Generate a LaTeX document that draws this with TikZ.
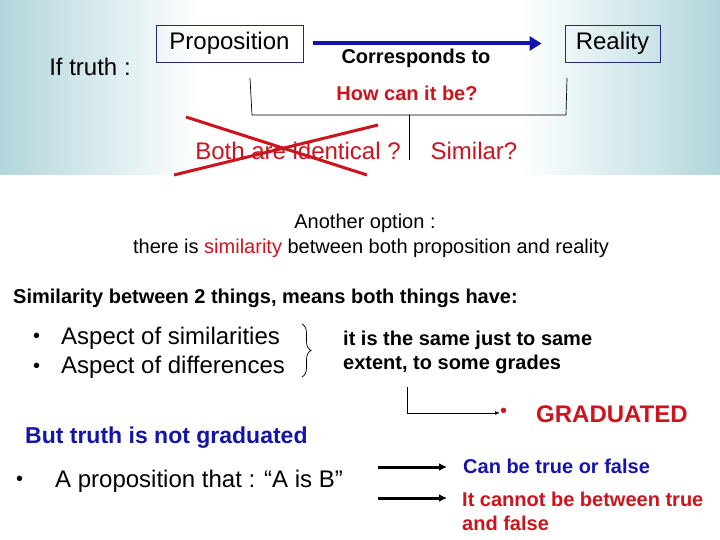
\documentclass[tikz,border=0pt]{standalone}
\usepackage{fontspec}
\setmainfont{Liberation Sans}
\usetikzlibrary{arrows.meta,decorations.pathreplacing}
\definecolor{teal1}{RGB}{178,214,220}
\definecolor{dred}{RGB}{205,20,30}
\definecolor{dblue}{RGB}{20,20,170}
\definecolor{bxb}{RGB}{40,40,120}
\tikzset{
  lbl/.style={inner sep=0pt, anchor=west, font=\fontsize{24}{26}\selectfont},
  sb/.style={inner sep=0pt, anchor=west, font=\fontsize{20}{22}\selectfont\bfseries},
  box/.style={draw=bxb, line width=0.8pt, inner sep=0pt, minimum height=37pt, font=\fontsize{24}{26}\selectfont},
  thin/.style={line width=0.7pt},
  fat/.style={line width=3pt, -{Latex[length=8pt,width=8pt]}}
}
\begin{document}
\begin{tikzpicture}[x=1pt,y=-1pt]
\useasboundingbox (0,0) rectangle (720,540);
\shade[left color=teal1, right color=white] (0,0) rectangle (200,175);
\shade[left color=white, right color=teal1] (520,0) rectangle (720,175);
\node[lbl, anchor=center] (if) at (90,67) {If truth :};
\node[box, minimum width=147pt] (prop) at (229.5,43.5) {Proposition};
\node[box, minimum width=95pt] (real) at (612.5,43.5) {Reality};
\draw[line width=4pt, draw=dblue, -{Triangle[length=12pt,width=14pt]}] ([xshift=10pt]prop.east) -- ([xshift=-23pt]real.west);
\node[sb, anchor=center] (corr) at (416,58) {Corresponds to};
\node[sb, anchor=center, text=dred] (how) at (407,93) {How can it be?};
\coordinate (b1) at (250,78); \coordinate (b2) at (252,115);
\coordinate (b3) at (566,115); \coordinate (b4) at (567,78);
\coordinate (t1) at (409,115); \coordinate (t2) at (409,160);
\draw[thin] (b1) -- (b2) -- (b3) -- (b4);
\draw[thin] (t1) -- (t2);
\node[lbl, anchor=center, text=dred] (both) at (298,151) {Both are identical ?};
\node[lbl, anchor=center, text=dred] (sim) at (474,151) {Similar?};
\coordinate (x1) at (186,117); \coordinate (x2) at (367,175);
\coordinate (x3) at (174,175); \coordinate (x4) at (378,125);
\draw[line width=3pt, dred] (x1) -- (x2);
\draw[line width=3pt, dred] (x3) -- (x4);
\node[inner sep=0pt, font=\fontsize{20}{22}\selectfont] (ano) at (365,223) {Another option :};
\node[inner sep=0pt, font=\fontsize{20}{22}\selectfont] (there) at (371,248) {there is {\color{dred}similarity} between both proposition and reality};
\node[sb] (simb) at (13,298) {Similarity between 2 things, means both things have:};
\node[lbl, font=\fontsize{20}{22}\selectfont] (bu1) at (33,338) {•};
\node[lbl, font=\fontsize{20}{22}\selectfont] (bu2) at (33,368) {•};
\node[lbl] (as1) at (61,338) {Aspect of similarities};
\node[lbl] (as2) at (61,367) {Aspect of differences};
\draw[thin, decorate, decoration={brace, amplitude=9pt}] (302,324) -- (302,377);
\node[sb, align=left, font=\fontsize{20}{24}\selectfont\bfseries] (same) at (343,352) {it is the same just to same\\extent, to some grades};
\coordinate (e1) at (407,387); \coordinate (e2) at (407,413);
\node[lbl, text=dred, font=\fontsize{20}{22}\selectfont] (gb) at (500,413) {•};
\draw[thin, -{Latex[length=5pt]}] (e1) -- (e2) -- (gb.west);
\node[lbl, text=dred, font=\fontsize{24}{26}\selectfont\bfseries] (grad) at (536,414) {GRADUATED};
\node[lbl, text=dblue, font=\fontsize{23}{26}\selectfont\bfseries] (but) at (25,438) {But truth is not graduated};
\node[lbl, font=\fontsize{20}{22}\selectfont] (bu3) at (16,481) {•};
\node[lbl] (apr) at (55,481) {A proposition that : “A is B”};
\coordinate (f1) at (378,467); \coordinate (f2) at (378,498);
\node[sb, text=dblue] (can) at (463,466) {Can be true or false};
\node[sb, text=dred, align=left, font=\fontsize{20}{24}\selectfont\bfseries] (cnt) at (462,511) {It cannot be between true\\and false};
\coordinate (g1) at (447,467); \coordinate (g2) at (447,498);
\draw[fat] (f1) -- (g1);
\draw[fat] (f2) -- (g2);
\end{tikzpicture}
\end{document}
